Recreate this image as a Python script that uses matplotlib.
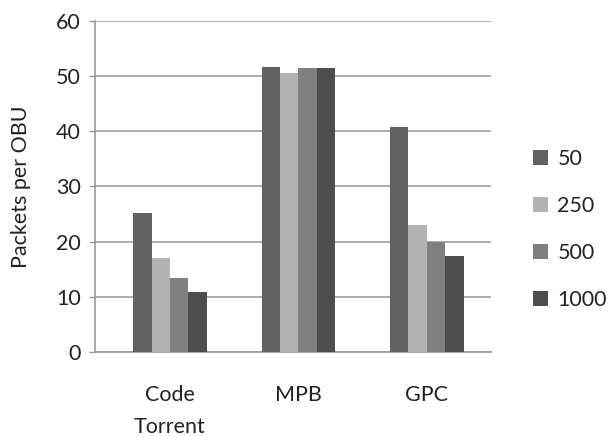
import matplotlib.pyplot as plt
import numpy as np
from matplotlib.patches import Patch

plt.rcParams['font.family'] = ['Lato', 'DejaVu Sans']

categories = ["Code\nTorrent", "MPB", "GPC"]
series_names = ["50", "250", "500", "1000"]
values_50 = [25.2, 51.7, 40.8]
values_250 = [17.1, 50.5, 23.1]
values_500 = [13.5, 51.5, 20.0]
values_1000 = [10.8, 51.5, 17.4]
colors = ["#616161", "#b3b3b3", "#808080", "#4d4d4d"]

series = [values_50, values_250, values_500, values_1000]

fig = plt.figure(figsize=(6.08, 4.37), dpi=100)
ax = fig.add_axes([0.156, 0.1945, 0.6516, 0.7575])

x = np.arange(len(categories))
width = 0.143
for i, vals in enumerate(series):
    offset = (i - 1.5) * width
    ax.bar(x + offset, vals, width, color=colors[i], zorder=3)

ax.set_xlim(-0.585, 2.50)
ax.set_ylim(0, 60)
ax.set_yticks(range(0, 61, 10))
ax.set_xticks(x)
ax.set_xticklabels(categories, fontsize=15.5, color="#222222", linespacing=1.7)
ax.tick_params(axis='x', length=0, pad=24)
ax.tick_params(axis='y', length=4.5, width=1, color="#999999", labelsize=15.5,
               labelcolor="#222222", pad=5.5)

ax.yaxis.grid(True, color="#a0a0a0", linewidth=1.2, zorder=0)
for side in ['top', 'right']:
    ax.spines[side].set_visible(False)
for side in ['left', 'bottom']:
    ax.spines[side].set_color("#999999")
    ax.spines[side].set_linewidth(1.2)

ax.set_ylabel("Packets per OBU", fontsize=15.5, color="#222222", labelpad=18)

handles = [Patch(facecolor=c, edgecolor='none', label=n) for c, n in zip(colors, series_names)]
fig.legend(handles=handles, loc='center left', bbox_to_anchor=(0.876, 0.474),
           frameon=False, fontsize=15.5, handlelength=0.7, handleheight=0.7,
           handletextpad=0.45, labelspacing=1.25, labelcolor="#222222",
           borderpad=0, borderaxespad=0)

fig.savefig("out.png", dpi=100)
